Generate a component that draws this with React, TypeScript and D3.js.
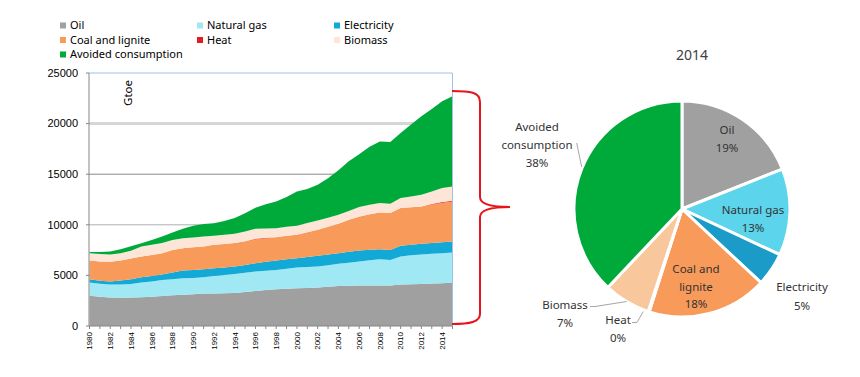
import React from "react";
import * as d3 from "d3";

const years = d3.range(1980, 2016);
const seriesNames = ["Oil", "Natural gas", "Electricity", "Coal and lignite", "Heat", "Biomass", "Avoided consumption"];
const oil = [3000,2900,2820,2800,2810,2840,2900,2970,3040,3100,3140,3200,3200,3240,3270,3370,3470,3550,3630,3680,3730,3760,3800,3880,3960,3980,3990,3990,3990,3990,4090,4130,4160,4190,4220,4290];
const gas = [1290,1280,1270,1290,1340,1450,1500,1580,1580,1620,1610,1620,1750,1810,1880,1890,1910,1910,1910,1980,2040,2060,2070,2130,2180,2280,2380,2500,2610,2540,2770,2850,2900,2940,2970,2970];
const electricity = [330,300,300,400,480,530,530,530,660,760,790,790,760,740,720,770,820,880,930,930,930,1000,1060,1060,1050,1080,1090,1050,990,990,1060,1060,1060,1070,1090,1090];
const coal = [1850,1900,1950,1980,2030,2040,2090,2110,2240,2210,2250,2240,2310,2320,2320,2350,2380,2340,2310,2320,2310,2450,2570,2730,2910,3150,3300,3500,3630,3640,3730,3690,3690,3800,3890,3950];
const heat = [0,0,0,0,0,0,0,0,0,0,0,0,0,0,0,0,40,40,0,0,0,0,0,0,0,0,40,0,0,0,0,0,0,60,80,80];
const biomass = [730,730,730,730,780,990,1000,1000,990,990,950,990,890,900,920,950,990,920,890,890,890,910,930,900,890,880,960,930,930,920,990,1070,1160,1240,1380,1410];
const avoided = [100,200,300,390,430,330,480,650,730,920,1160,1230,1240,1370,1550,1800,2080,2400,2640,2950,3400,3350,3530,3900,4390,4900,5210,5750,6070,6110,6440,7100,7750,8150,8580,8910];

const areaColors = ["#a0a0a0", "#a0e8f4", "#12a9d6", "#f79a5a", "#e31b23", "#fde6d8", "#00aa3a"];
const yTicks = [0, 5000, 10000, 15000, 20000, 25000];
const xLabelYears = d3.range(1980, 2015, 2);

const pieLabels = ["Oil", "Natural gas", "Electricity", "Coal and lignite", "Heat", "Biomass", "Avoided consumption"];
const pieShares = [19, 13, 5, 18, 0.15, 7, 38];
const pieColors = ["#a0a0a0", "#5cd4eb", "#1b9bc8", "#f79a5a", "#e31b23", "#f8c89c", "#00aa3a"];

const legendCols = [60, 197, 334];
const legendRows = [25.5, 40, 54.5];

export default function App() {
  const x = d3.scaleLinear().domain([1980, 2015]).range([89.5, 452.5]);
  const y = d3.scaleLinear().domain([0, 25000]).range([326, 73]);
  const table = years.map((yr, i) => ({
    year: yr,
    s0: oil[i], s1: gas[i], s2: electricity[i], s3: coal[i], s4: heat[i], s5: biomass[i], s6: avoided[i],
  }));
  const keys = ["s0", "s1", "s2", "s3", "s4", "s5", "s6"];
  const stacked = d3.stack<any>().keys(keys)(table);
  const area = d3.area<any>()
    .x((d: any) => x(d.data.year))
    .y0((d: any) => y(d[0]))
    .y1((d: any) => y(d[1]));

  const cx = 682, cy = 209, r = 108;
  const pie = d3.pie<number>().sort(null).value((d) => d)(pieShares);
  const arc = d3.arc<any>().innerRadius(0).outerRadius(r);

  const font = "'Noto Sans', 'Open Sans', sans-serif";
  const numFont = "'Liberation Sans', Arial, sans-serif";
  const labelColor = "#333";

  const legendOrder = [
    { idx: 0, c: 0, r: 0 }, { idx: 1, c: 1, r: 0 }, { idx: 2, c: 2, r: 0 },
    { idx: 3, c: 0, r: 1 }, { idx: 4, c: 1, r: 1 }, { idx: 5, c: 2, r: 1 },
    { idx: 6, c: 0, r: 2 },
  ];

  return (
    <svg width={860} height={377} style={{ position: "absolute", left: 0, top: 0, background: "#fff" }}>
      {legendOrder.map((o) => (
        <g key={o.idx}>
          <rect x={legendCols[o.c]} y={legendRows[o.r] - 3} width={6} height={6} fill={areaColors[o.idx]} />
          <text x={legendCols[o.c] + 10} y={legendRows[o.r]} dy="0.35em" fontFamily={font} fontSize={11} fill="#000">
            {seriesNames[o.idx]}
          </text>
        </g>
      ))}

      <line x1={89} x2={452.5} y1={y(10000)} y2={y(10000)} stroke="#b0b0b0" strokeWidth={1} />
      <line x1={89} x2={452.5} y1={y(15000)} y2={y(15000)} stroke="#8a8a8a" strokeWidth={1} />
      <line x1={89} x2={452.5} y1={y(20000)} y2={y(20000)} stroke="#d6d6d6" strokeWidth={3} />
      <line x1={89} x2={452.5} y1={y(5000)} y2={y(5000)} stroke="#b0b0b0" strokeWidth={1} />

      {stacked.map((s, i) => (
        <path key={i} d={area(s as any) || ""} fill={areaColors[i]} />
      ))}

      <line x1={89} x2={452.5} y1={73} y2={73} stroke="#9dc3e6" strokeWidth={1} />
      <line x1={452.5} x2={452.5} y1={73} y2={326} stroke="#9dc3e6" strokeWidth={1} />

      <line x1={89} x2={89} y1={73} y2={326} stroke="#868686" strokeWidth={1} />
      {yTicks.map((t) => (
        <g key={t}>
          <line x1={86} x2={89} y1={y(t)} y2={y(t)} stroke="#868686" />
          <text x={78} y={y(t)} dy="0.35em" textAnchor="end" fontFamily={numFont} fontSize={11} fill="#000">
            {t}
          </text>
        </g>
      ))}

      <line x1={89} x2={452.5} y1={326} y2={326} stroke="#868686" strokeWidth={1} />
      {years.map((yr) => (
        <line key={yr} x1={x(yr)} x2={x(yr)} y1={326} y2={329} stroke="#868686" />
      ))}
      {xLabelYears.map((yr) => (
        <text key={yr} transform={`translate(${x(yr)},332) rotate(-90)`} textAnchor="end" dy="0.35em"
          fontFamily={numFont} fontSize={8} fill="#000">
          {yr}
        </text>
      ))}

      <text transform="translate(128,80) rotate(-90)" textAnchor="end" dy="0.35em" fontFamily={font} fontSize={11.5} fill="#000">
        Gtoe
      </text>

      <path d="M452,91 C470,91 480,92 480,102 L480,197 C480,204 490,207 510,207 C490,207 480,210 480,217 L480,314 C480,322 470,324 452,324"
        fill="none" stroke="#e8141c" strokeWidth={2} />

      <text x={692} y={55} dy="0.35em" textAnchor="middle" fontFamily={font} fontSize={14} fill="#404040">2014</text>
      <g transform={`translate(${cx},${cy})`}>
        {pie.map((p, i) => (
          <path key={i} d={arc(p) || ""} fill={pieColors[i]} stroke="#fff" strokeWidth={3} strokeLinejoin="round" />
        ))}
      </g>

      <polyline points="576.7,143 581.7,167" fill="none" stroke="#a6a6a6" strokeWidth={1} />
      <polyline points="590,306.5 595,306.5 626.7,301.5" fill="none" stroke="#a6a6a6" strokeWidth={1} />
      <polyline points="632,322.5 637,322.5 643.3,311.5" fill="none" stroke="#a6a6a6" strokeWidth={1} />

      <g fontFamily={font} fontSize={11.5} fill={labelColor} textAnchor="middle">
        <text x={727} y={129.5} dy="0.35em">{pieLabels[0]}</text>
        <text x={727} y={147.5} dy="0.35em">{Math.round(pieShares[0])}%</text>
        <text x={753} y={209.5} dy="0.35em">{pieLabels[1]}</text>
        <text x={753} y={227.5} dy="0.35em">{Math.round(pieShares[1])}%</text>
        <text x={802} y={286.5} dy="0.35em">{pieLabels[2]}</text>
        <text x={802} y={305.5} dy="0.35em">{Math.round(pieShares[2])}%</text>
        <text x={696} y={268.5} dy="0.35em">Coal and</text>
        <text x={696} y={286.5} dy="0.35em">lignite</text>
        <text x={696} y={304} dy="0.35em">{Math.round(pieShares[3])}%</text>
        <text x={618} y={320} dy="0.35em">{pieLabels[4]}</text>
        <text x={618} y={337.5} dy="0.35em">{Math.round(pieShares[4])}%</text>
        <text x={565} y={304.5} dy="0.35em">{pieLabels[5]}</text>
        <text x={565} y={322.5} dy="0.35em">{Math.round(pieShares[5])}%</text>
        <text x={537} y={127} dy="0.35em">Avoided</text>
        <text x={537} y={145} dy="0.35em">consumption</text>
        <text x={537} y={163} dy="0.35em">{Math.round(pieShares[6])}%</text>
      </g>
    </svg>
  );
}
